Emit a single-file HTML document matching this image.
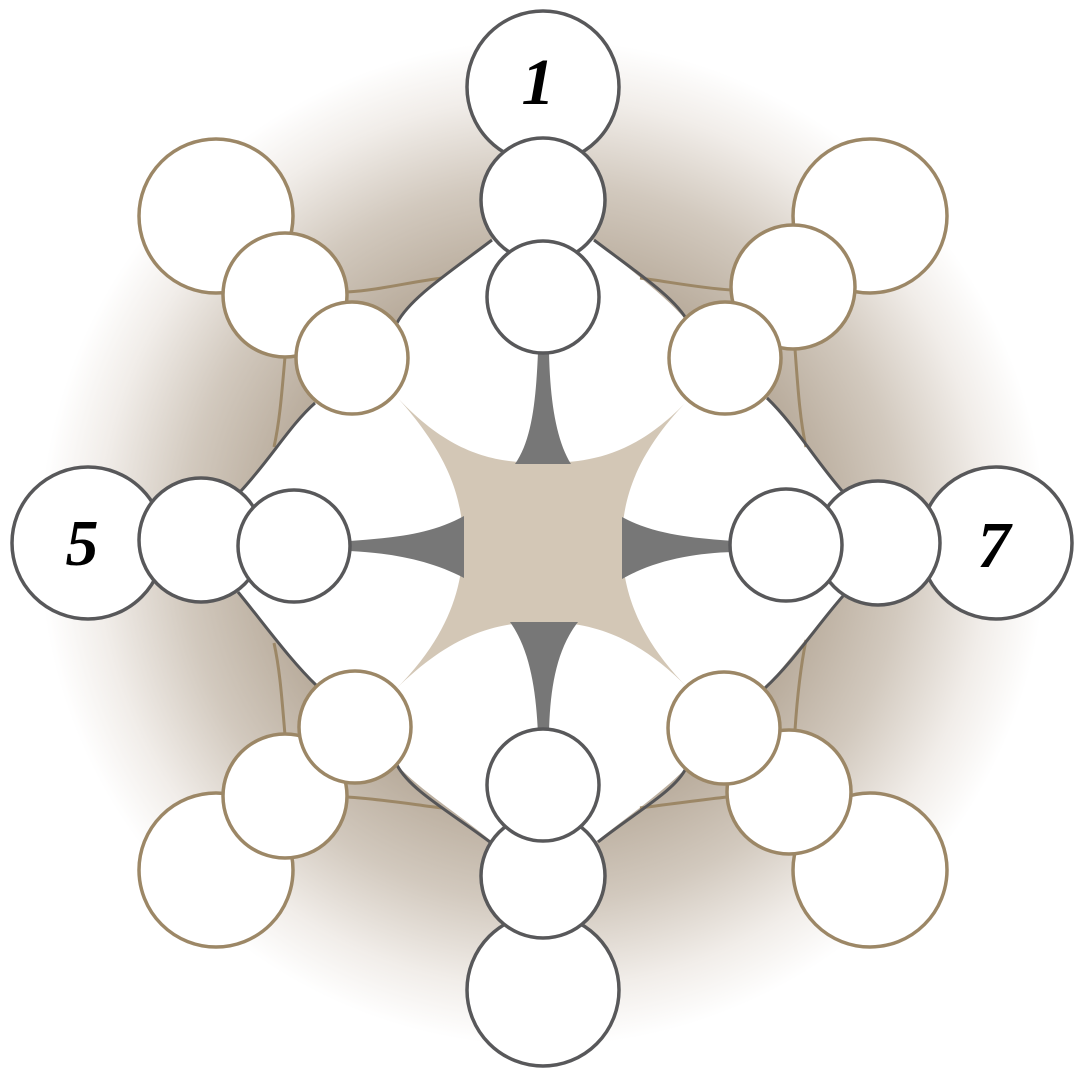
<!DOCTYPE html>
<html><head><style>
html,body{margin:0;padding:0;background:#fff;}
svg{display:block;}
</style></head><body>
<svg width="1080" height="1080" viewBox="0 0 1080 1080" xmlns="http://www.w3.org/2000/svg">
<defs>
<radialGradient id="g" cx="543" cy="543" r="530" gradientUnits="userSpaceOnUse">
<stop offset="0" stop-color="#ad9f8e"/>
<stop offset="0.5" stop-color="#b8ab9b"/>
<stop offset="0.68" stop-color="#d2c9be"/>
<stop offset="0.84" stop-color="#f1ede9"/>
<stop offset="0.95" stop-color="#ffffff"/>
</radialGradient>
</defs>
<rect width="1080" height="1080" fill="#fff"/>
<circle cx="543" cy="543" r="530" fill="url(#g)"/>
<path fill="#fff" d="M543,230 L490,240 C450,270 410,300 397,323 L315,403 C290,430 260,470 240,490 L201,540 L238,592 C260,620 290,660 317,686 L397,765 C420,790 460,815 490,840 L543,876 L598,840 C630,815 665,790 686,768 L765,688 C790,660 820,620 843,596 L878,543 L843,493 C820,465 790,425 767,398 L686,320 C665,295 630,270 594,240 Z"/>
<g fill="none" stroke="#9c8766" stroke-width="3">
<path d="M347,292 C380,290 410,282 442,278"/>
<path d="M285,357 C282,390 280,420 274,447"/>
<path d="M731,290 C700,288 670,282 640,278"/>
<path d="M795,349 C798,390 800,420 806,447"/>
<path d="M347,797 C380,799 410,804 442,808"/>
<path d="M285,735 C282,700 280,670 274,643"/>
<path d="M727,797 C700,800 670,804 640,808"/>
<path d="M795,730 C797,700 800,670 806,640"/>
</g>
<g fill="none" stroke="#555557" stroke-width="3">
<path d="M492,240 C450,272 410,298 397,323"/>
<path d="M594,240 C636,272 676,298 688,322"/>
<path d="M240,492 C270,460 290,425 315,403"/>
<path d="M238,592 C265,625 290,660 317,686"/>
<path d="M843,492 C815,460 795,425 767,398"/>
<path d="M843,596 C815,628 795,660 765,688"/>
<path d="M490,842 C450,812 410,790 397,765"/>
<path d="M598,842 C636,812 676,790 686,768"/>
</g>
<path fill="#d3c7b6" d="M395,395 C450,455 495,463 543,463 C591,463 636,455 688,400 C635,455 622,500 622,543 C622,586 635,635 688,688 C636,635 591,622 543,622 C495,622 450,635 395,690 C450,635 463,586 463,543 C463,500 450,455 395,395 Z"/>
<g fill="#777777">
<path d="M538,352 C536,400 532,440 515,464 L571,464 C556,440 550,400 549,352 Z"/>
<path d="M538,733 C536,690 530,650 510,622 L578,622 C556,650 550,690 549,733 Z"/>
<path d="M350,541 C390,538 430,535 464,516 L464,578 C430,560 390,553 350,551 Z"/>
<path d="M733,541 C695,538 655,535 622,517 L622,579 C655,560 695,553 733,552 Z"/>
</g>
<g fill="#fff" stroke-width="3.5">
<g stroke="#58585a">
<circle cx="543" cy="87" r="76"/>
<circle cx="543" cy="990" r="76"/>
<circle cx="88" cy="543" r="76"/>
<circle cx="996" cy="543" r="76"/>
</g>
<g stroke="#9c8766">
<circle cx="216" cy="216" r="77"/>
<circle cx="870" cy="216" r="77"/>
<circle cx="216" cy="870" r="77"/>
<circle cx="870" cy="870" r="77"/>
<circle cx="285" cy="295" r="62"/>
<circle cx="793" cy="287" r="62"/>
<circle cx="285" cy="796" r="62"/>
<circle cx="789" cy="792" r="62"/>
</g>
<g stroke="#58585a">
<circle cx="543" cy="200" r="62"/>
<circle cx="543" cy="876" r="62"/>
<circle cx="201" cy="540" r="62"/>
<circle cx="878" cy="543" r="62"/>
<circle cx="543" cy="297" r="56"/>
<circle cx="543" cy="785" r="56"/>
<circle cx="294" cy="546" r="56"/>
<circle cx="786" cy="545" r="56"/>
</g>
<g stroke="#9c8766">
<circle cx="352" cy="358" r="56"/>
<circle cx="725" cy="358" r="56"/>
<circle cx="355" cy="727" r="56"/>
<circle cx="724" cy="728" r="56"/>
</g>
</g>
<g font-family="Liberation Serif, serif" font-style="italic" font-weight="bold" font-size="66" fill="#000" text-anchor="middle">
<text x="538" y="104">1</text>
<text x="82" y="565">5</text>
<text x="994" y="567">7</text>
</g>
</svg>
</body></html>
